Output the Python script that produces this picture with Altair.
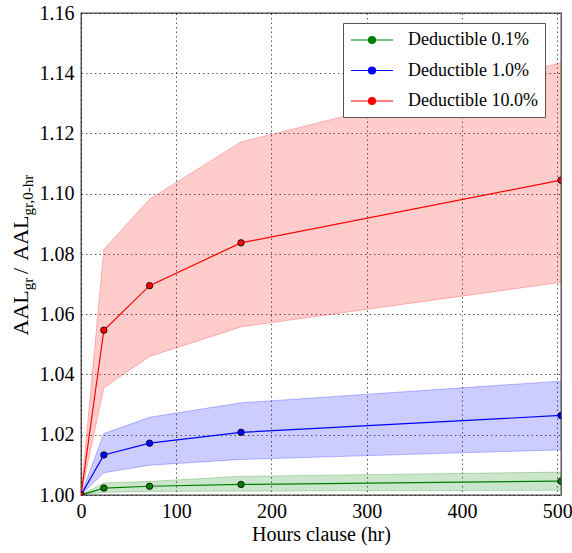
import altair as alt
import pandas as pd

hours = [0, 24, 72, 168, 504]
series_names = ["Deductible 0.1%", "Deductible 1.0%", "Deductible 10.0%"]
series_colors = ["#008000", "#0000ff", "#ff0000"]

green_mean = [1.0, 1.0023, 1.0029, 1.0035, 1.0046]
green_lo = [1.0, 1.0009, 1.0012, 1.0013, 1.0016]
green_hi = [1.0, 1.0040, 1.0045, 1.0062, 1.0076]

blue_mean = [1.0, 1.0133, 1.0172, 1.0208, 1.0264]
blue_lo = [1.0, 1.0074, 1.0099, 1.0118, 1.0150]
blue_hi = [1.0, 1.0204, 1.0258, 1.0306, 1.0378]

red_mean = [1.0, 1.0547, 1.0695, 1.0837, 1.1045]
red_lo = [1.0, 1.0356, 1.0460, 1.0558, 1.0706]
red_hi = [1.0, 1.0815, 1.0982, 1.1172, 1.1435]

x_ticks = [0, 100, 200, 300, 400, 500]
y_ticks = [1.00, 1.02, 1.04, 1.06, 1.08, 1.10, 1.12, 1.14, 1.16]

rows = []
for name, m, lo, hi in zip(series_names,
                           [green_mean, blue_mean, red_mean],
                           [green_lo, blue_lo, red_lo],
                           [green_hi, blue_hi, red_hi]):
    for h, a, b, c in zip(hours, m, lo, hi):
        rows.append({"series": name, "hours": h, "mean": a, "lo": b, "hi": c})
df = pd.DataFrame(rows)

FONT = "'Liberation Serif', 'DejaVu Serif', serif"

xscale = alt.Scale(domain=[0, 504], nice=False, zero=False)
yscale = alt.Scale(domain=[1.0, 1.16], nice=False, zero=False)
color_scale = alt.Scale(domain=series_names, range=series_colors)

xaxis = alt.Axis(values=x_ticks, title="Hours clause (hr)", format="d",
                 labelFlush=False, labelFont=FONT, titleFont=FONT)
yaxis = alt.Axis(values=y_ticks, title=None, format=".2f", labelFlush=False,
                 labelFont=FONT)

# legend symbol: a line with a dot, sized 18x18 units box (1 unit = 9px)
legend_path = ("M-1,0L3.67,0M1.72,0A0.39,0.39,0,1,1,0.94,0"
               "A0.39,0.39,0,1,1,1.72,0Z")
legend = alt.Legend(
    title=None, orient="none", legendX=262, legendY=10,
    symbolType=legend_path, symbolSize=324, symbolStrokeWidth=1.2,
    symbolOpacity=1, labelOffset=38, rowPadding=11.5, padding=7,
    labelFont=FONT, labelFontSize=18, labelColor="black",
    strokeColor="#555", fillColor="white", cornerRadius=0, labelLimit=300)

color = alt.Color("series:N", scale=color_scale, legend=legend)

base = alt.Chart(df)

band = base.mark_area(clip=True, opacity=0.2).encode(
    x=alt.X("hours:Q", scale=xscale, axis=xaxis),
    y=alt.Y("lo:Q", scale=yscale, axis=yaxis),
    y2="hi:Q",
    color=color,
)

edge_lo = base.mark_line(clip=True, strokeWidth=1, opacity=0.25).encode(
    x=alt.X("hours:Q", scale=xscale, axis=xaxis),
    y=alt.Y("lo:Q", scale=yscale, axis=yaxis),
    color=color,
)
edge_hi = base.mark_line(clip=True, strokeWidth=1, opacity=0.25).encode(
    x=alt.X("hours:Q", scale=xscale, axis=xaxis),
    y=alt.Y("hi:Q", scale=yscale, axis=yaxis),
    color=color,
)

line = base.mark_line(clip=True, strokeWidth=1.2).encode(
    x=alt.X("hours:Q", scale=xscale, axis=xaxis),
    y=alt.Y("mean:Q", scale=yscale, axis=yaxis),
    color=color,
)

pts = base.mark_point(clip=True, filled=True, size=42, opacity=1,
                      stroke="black", strokeWidth=0.8).encode(
    x=alt.X("hours:Q", scale=xscale, axis=xaxis),
    y=alt.Y("mean:Q", scale=yscale, axis=yaxis),
    color=color,
)

# y-axis title composed of normal and subscript pieces (rotated)
title_parts = [
    ("AAL", 22, -53, 322.5),
    ("gr", 15, -48, 277.3),
    ("/", 22, -53, 261.0),
    ("AAL", 22, -53, 247.7),
    ("gr,0-hr", 15, -48, 202.5),
]
title_layers = []
for txt, fs, xv, yv in title_parts:
    title_layers.append(
        alt.Chart(pd.DataFrame({"t": [txt]})).mark_text(
            angle=270, align="left", baseline="alphabetic", font=FONT,
            fontSize=fs, color="black").encode(
            text="t:N", x=alt.value(xv), y=alt.value(yv))
    )

chart = alt.layer(band, edge_lo, edge_hi, line, pts, *title_layers).properties(
    width=480, height=482,
    autosize=alt.AutoSizeParams(type="none"),
    padding={"left": 81, "top": 13, "right": 11, "bottom": 58},
).configure(
    font=FONT
).configure_view(
    stroke="#444", strokeWidth=1.3
).configure_axis(
    labelFont=FONT, titleFont=FONT, labelFontSize=20, titleFontSize=20,
    titleFontWeight="normal", labelColor="black", titleColor="black",
    tickSize=0, labelPadding=6, titlePadding=3, domain=False, grid=True,
    gridDash=[1.5, 3], gridColor="#000", gridOpacity=0.65, gridWidth=1,
).configure_axisY(
    labelPadding=7
).configure_legend(
    labelFont=FONT, labelFontSize=18, labelColor="black"
)

chart.save("out.html", embed_options={"renderer": "svg", "actions": False})
